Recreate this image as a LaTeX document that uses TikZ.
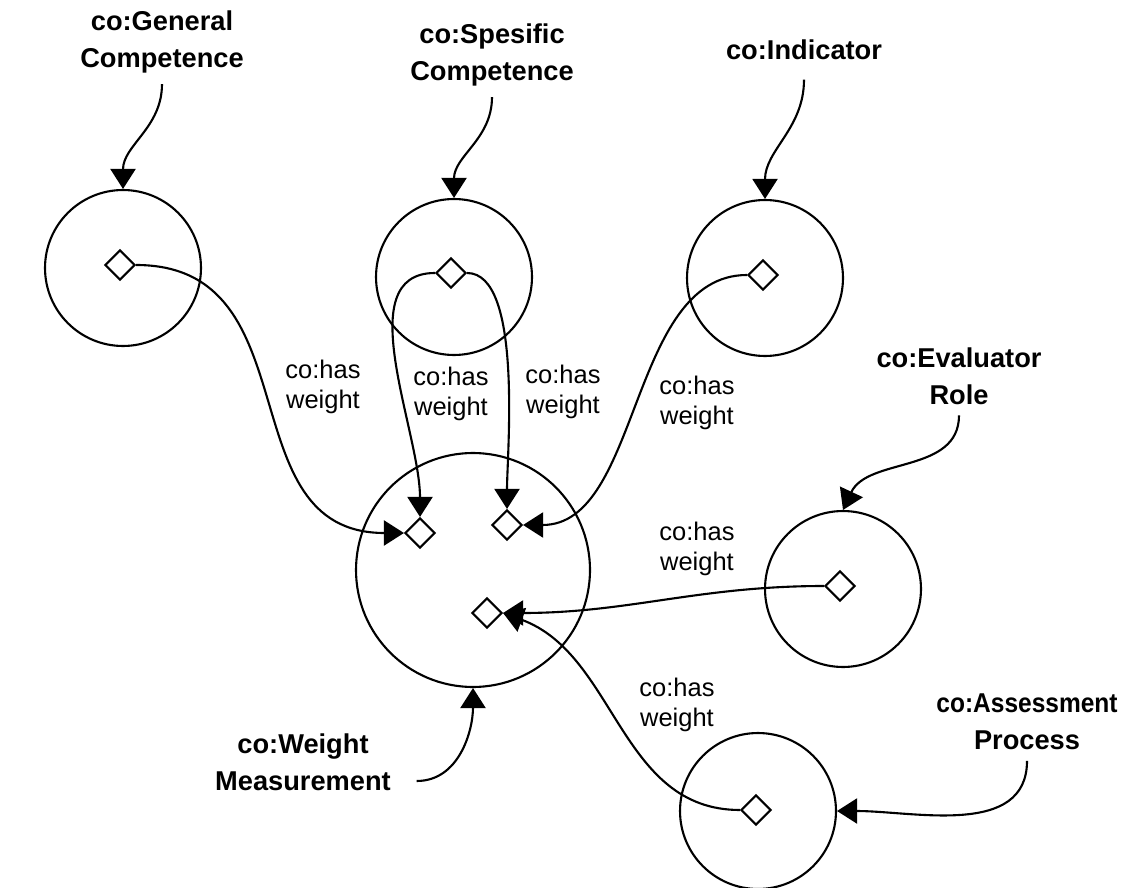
\documentclass[tikz,border=0pt]{standalone}
\usepackage{fontspec}
\setmainfont{Liberation Sans}
\usepackage{graphicx}
\usetikzlibrary{arrows.meta, positioning, shapes.geometric}
\newcommand{\narrowtxt}[1]{\scalebox{0.9}[1]{#1}}

\begin{document}
\begin{tikzpicture}[
    x=0.02cm, y=-0.02cm,
    cls/.style={
        circle,
        draw=black,
        line width=1.2pt,
        minimum size=3.12cm,
        inner sep=0pt
    },
    bigcls/.style={cls, minimum size=4.68cm},
    port/.style={
        diamond,
        draw=black,
        fill=white,
        line width=1.2pt,
        minimum size=0.6cm,
        inner sep=0pt
    },
    title/.style={align=center, inner sep=6pt, font=\bfseries\fontsize{15.5}{21}\selectfont},
    prop/.style={align=center, font=\fontsize{14.5}{17}\selectfont},
    arrow/.style={-{Triangle[length=0.4cm, width=0.5cm]}, line width=1.2pt}
]
\useasboundingbox (0,0) rectangle (1125,888);

% classes
\node[cls] (gc) at (123,268) {};
\node[cls] (sc) at (454,277) {};
\node[cls] (ind) at (765,278) {};
\node[bigcls] (wm) at (473,570) {};
\node[cls] (er) at (843,589) {};
\node[cls] (ap) at (758,811) {};

% ports
\node[port] (gcp) at (120,265) {};
\node[port] (scp) at (451,273) {};
\node[port] (indp) at (763,275) {};
\node[port] (wmp1) at (420,533) {};
\node[port] (wmp2) at (507,525) {};
\node[port] (wmp3) at (487,613) {};
\node[port] (erp) at (840,586) {};
\node[port] (app) at (756,810) {};

% class names
\node[title] (gclab) at (162,42) {co:General\\Competence};
\node[title] (sclab) at (492,55) {co:Spesific\\Competence};
\node[title, inner sep=11pt] (indlab) at (804,50) {co:Indicator};
\node[title] (erlab) at (959,376) {co:Evaluator\\Role};
\node[title] (aplab) at (1027,722) {\narrowtxt{co:Assessment}\\Process};
\node[title] (wmlab) at (303,762) {co:Weight\\Measurement};

% property names
\node[prop] (w1) at (323,387) {co:has\\weight};
\node[prop] (w2) at (451,394) {co:has\\weight};
\node[prop] (w3) at (563,392) {co:has\\weight};
\node[prop] (w4) at (697,403) {co:has\\weight};
\node[prop] (w5) at (697,549) {co:has\\weight};
\node[prop] (w6) at (677,705) {co:has\\weight};

\draw[arrow] (gclab.south) to[out=-90, in=90] (gc.north);
\draw[arrow] (sclab.south) to[out=-90, in=90] (sc.north);
\draw[arrow] (indlab.south) to[out=-90, in=90] (ind.north);
\draw[arrow] (erlab.south) to[out=-90, in=65] (er.north);
\draw[arrow] (aplab.south) to[out=-90, in=0] (ap.east);
\draw[arrow] ([xshift=0.3cm, yshift=-0.38cm]wmlab.east) to[out=0, in=-90] (wm.south);

\draw[arrow] (gcp.east) to[out=0, in=180, looseness=1.2] (wmp1.west);
\draw[arrow] (scp.west) to[out=180, in=90, looseness=0.9] (wmp1.north);
\draw[arrow] (scp.east) to[out=0, in=90, looseness=0.6] (wmp2.north);
\draw[arrow] (indp.west) to[out=180, in=0, looseness=0.9] (wmp2.east);
\draw[arrow] (erp.west) to[out=180, in=0] (wmp3.east);
\draw[arrow] (app.west) to[out=180, in=-20] (wmp3.east);

\end{tikzpicture}
\end{document}
